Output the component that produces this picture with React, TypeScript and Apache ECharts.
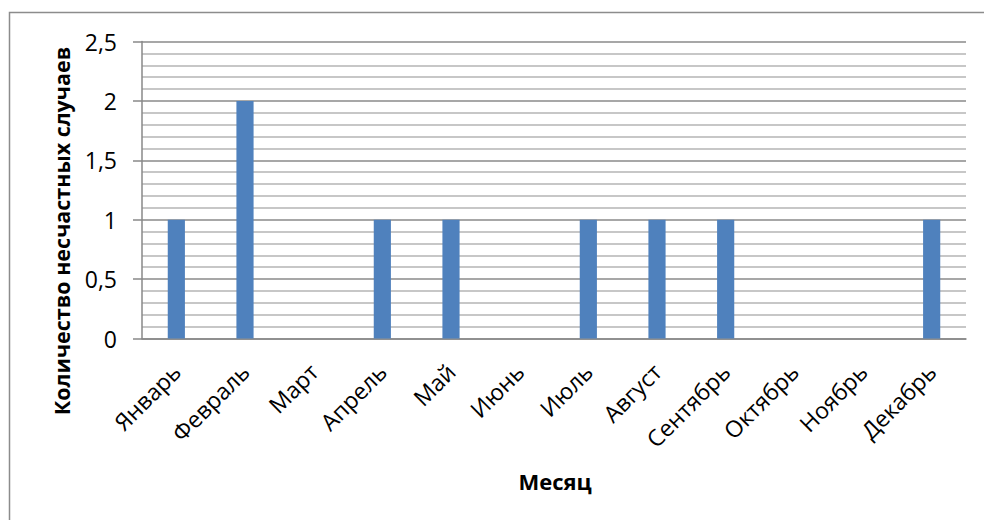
import React, { useEffect, useRef } from "react";
import * as echarts from "echarts";

const months = ["Январь", "Февраль", "Март", "Апрель", "Май", "Июнь", "Июль", "Август", "Сентябрь", "Октябрь", "Ноябрь", "Декабрь"];
const accidents = [1, 2, 0, 1, 1, 0, 1, 1, 1, 0, 0, 1];
const yAxisTitle = "Количество несчастных случаев";
const xAxisTitle = "Месяц";

const FONT = "'Open Sans', 'Noto Sans', sans-serif";

export default function App() {
  const ref = useRef<HTMLDivElement>(null);
  useEffect(() => {
    document.body.style.margin = "0";
    const chart = echarts.init(ref.current!, null, { renderer: "svg" });
    chart.setOption({
      animation: false,
      backgroundColor: "#ffffff",
      grid: { left: 142, top: 41.5, right: 18, bottom: 181.5 },
      graphic: [
        {
          type: "rect",
          shape: { x: 9.5, y: 12.5, width: 1100, height: 700 },
          style: { fill: "none", stroke: "#8c8c8c", lineWidth: 1.5 },
          silent: true,
        },
        {
          type: "text",
          x: 61,
          y: 231,
          rotation: Math.PI / 2,
          style: {
            text: yAxisTitle,
            font: `bold 21.5px ${FONT}`,
            fill: "#000",
            align: "center",
            verticalAlign: "middle",
          },
        },
        {
          type: "text",
          x: 555,
          y: 481,
          style: {
            text: xAxisTitle,
            font: `bold 22px ${FONT}`,
            fill: "#000",
            align: "center",
            verticalAlign: "middle",
          },
        },
      ],
      xAxis: {
        type: "category",
        data: months,
        axisLine: { lineStyle: { color: "#888888", width: 1.5 } },
        axisTick: { show: false },
        axisLabel: {
          rotate: 45,
          margin: 29,
          fontFamily: FONT,
          fontSize: 23,
          color: "#000",
          interval: 0,
        },
      },
      yAxis: {
        type: "value",
        min: 0,
        max: 2.5,
        interval: 0.5,
        axisLine: { show: true, lineStyle: { color: "#888888", width: 1.5 } },
        axisTick: { show: true, length: 9, lineStyle: { color: "#888888", width: 1.5 } },
        axisLabel: {
          margin: 25,
          fontFamily: FONT,
          fontSize: 23,
          color: "#000",
          formatter: (v: number) => String(v).replace(".", ","),
        },
        splitLine: { show: true, lineStyle: { color: "#8a8a8a", width: 1.5 } },
        minorTick: { show: false, splitNumber: 5 },
        minorSplitLine: { show: true, lineStyle: { color: "#b4b4b4", width: 1.5 } },
      },
      series: [
        {
          type: "bar",
          data: accidents,
          barWidth: "25%",
          itemStyle: { color: "#4f81bd" },
        },
      ],
    });
    return () => chart.dispose();
  }, []);
  return <div ref={ref} style={{ width: 984, height: 520 }} />;
}
